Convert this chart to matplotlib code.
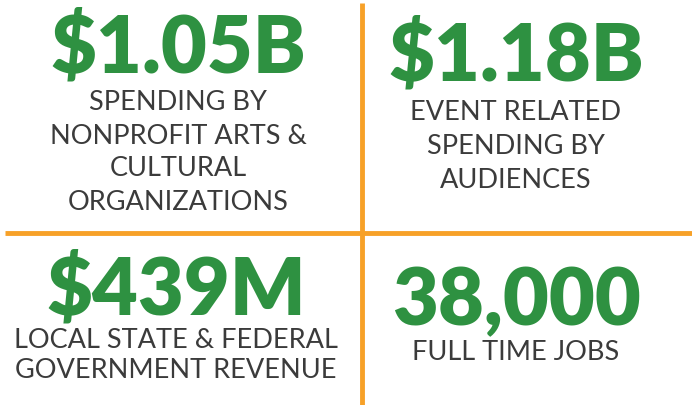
import matplotlib.pyplot as plt

# figures shown in the four panels
values = ["$1.05B", "$1.18B", "$439M", "38,000"]
captions = [
    ["SPENDING BY", "NONPROFIT ARTS &", "CULTURAL", "ORGANIZATIONS"],
    ["EVENT RELATED", "SPENDING BY", "AUDIENCES"],
    ["LOCAL STATE & FEDERAL", "GOVERNMENT REVENUE"],
    ["FULL TIME JOBS"],
]

green = "#2e9141"
gray = "#3b3b3b"
orange = "#f7a128"

fig = plt.figure(figsize=(6.92, 4.05), dpi=100)
ax = fig.add_axes([0, 0, 1, 1])
ax.set_xlim(0, 692)
ax.set_ylim(405, 0)
ax.axis("off")

# divider lines
ax.plot([362, 362], [3, 405], color=orange, lw=3.5, solid_capstyle="butt")
ax.plot([5, 692], [233, 233], color=orange, lw=3.5, solid_capstyle="butt")

# panel layout: centre x, y of big number, y of first caption line, line step
layout = [
    (178, 48, 103, 33),
    (516, 56, 113, 34),
    (176, 290, 341, 30),
    (516, 302, 353, 30),
]

for val, cap, (cx, vy, cy, step) in zip(values, captions, layout):
    ax.text(cx, vy, val, ha="center", va="center", fontsize=57,
            fontweight="heavy", color=green, family="Lato")
    for i, line in enumerate(cap):
        ax.text(cx, cy + i * step, line, ha="center", va="center",
                fontsize=19.5, color=gray, family="Lato")

fig.savefig("out.png", dpi=100)
